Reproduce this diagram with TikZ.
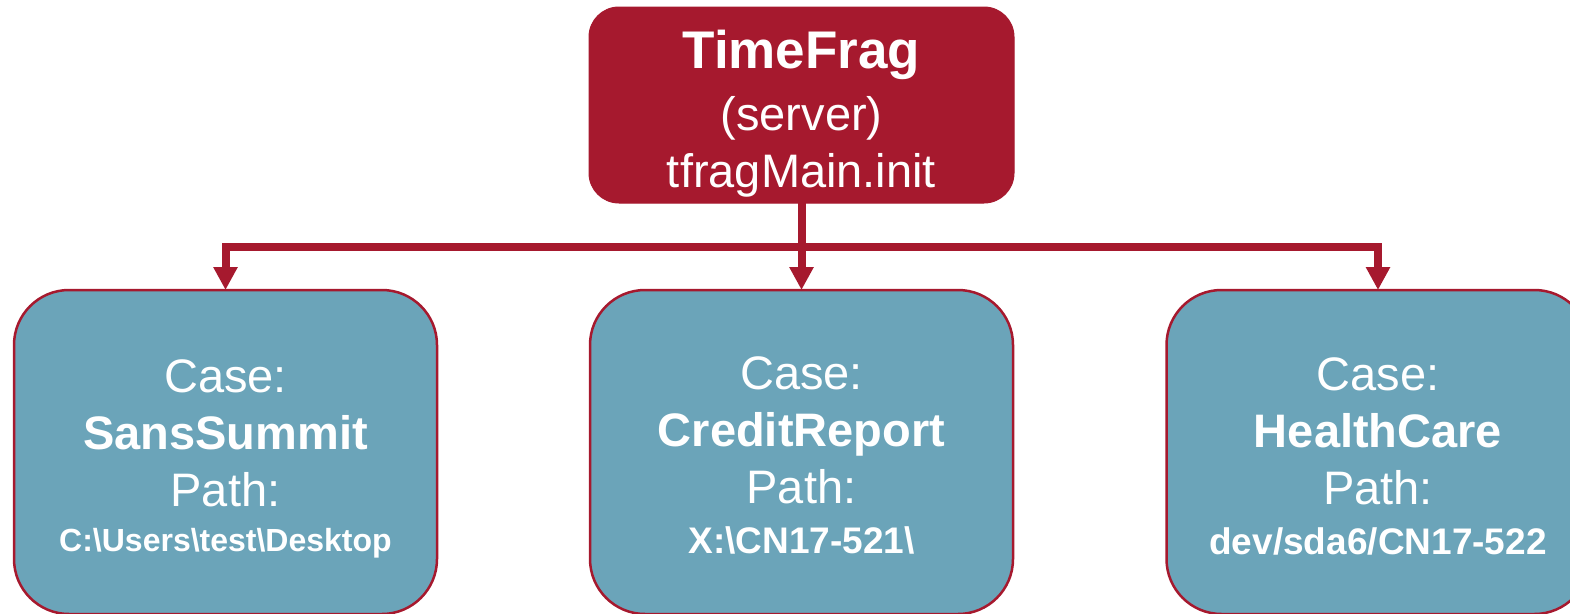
\documentclass[tikz,border=0pt]{standalone}
\usepackage{fontspec}
\setmainfont{Liberation Sans}
\usetikzlibrary{arrows.meta}
\definecolor{tfred}{RGB}{166,25,46}
\definecolor{tfblue}{RGB}{107,164,185}
\begin{document}
\begin{tikzpicture}[x=1pt,y=-1pt,
  serverbox/.style={rectangle, rounded corners=30pt, fill=tfred, draw=tfred, line width=1pt, minimum width=425pt, minimum height=196pt, inner sep=0pt, outer sep=0pt},
  casebox/.style={rectangle, rounded corners=55pt, fill=tfblue, draw=tfred, line width=2.5pt, minimum width=423pt, minimum height=324pt, inner sep=0pt, outer sep=0pt},
  boxtext/.style={text=white, align=center, inner sep=0pt, anchor=north, font=\fontsize{47}{57}\selectfont},
  conn/.style={draw=tfred, line width=8pt, -{Triangle[width=23pt,length=23pt]}}
]
\useasboundingbox (0,0) rectangle (1570,613);
\clip (0,0) rectangle (1570,613);
\node[serverbox] (server) at (801.5,105) {};
\node[boxtext] (servertext) at (801.5,30) {{\fontsize{53}{57}\selectfont\bfseries TimeFrag}\\[5pt](server)\\tfragMain.init};
\node[casebox] (sans) at (225.5,452) {};
\node[casebox] (credit) at (801.5,452) {};
\node[casebox] (health) at (1378,452) {};
\node[boxtext] (sanstext) at (225.5,359) {Case:\\\textbf{SansSummit}\\Path:\\[-12pt]{\fontsize{32}{57}\selectfont\bfseries C:\textbackslash Users\textbackslash test\textbackslash Desktop}};
\node[boxtext] (credittext) at (801.5,356) {Case:\\\textbf{CreditReport}\\Path:\\[-7pt]{\fontsize{37}{57}\selectfont\bfseries X:\textbackslash CN17-521\textbackslash}};
\node[boxtext] (healthtext) at (1378,357) {Case:\\\textbf{HealthCare}\\Path:\\[-7pt]{\fontsize{37}{57}\selectfont\bfseries dev/sda6/CN17-522}};
\coordinate (bus) at (801.5,247);
\draw[conn] (server.south) -- (credit.north);
\draw[conn] (server.south) -- (bus) -| (sans.north);
\draw[conn] (server.south) -- (bus) -| (health.north);
\end{tikzpicture}
\end{document}
